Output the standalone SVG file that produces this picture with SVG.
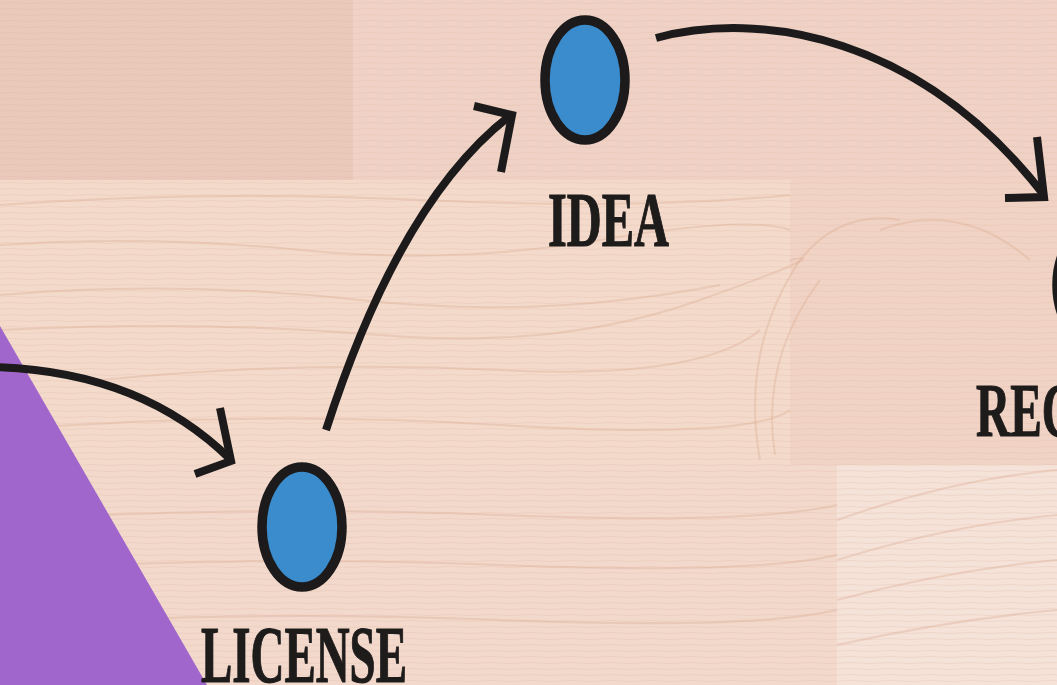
<svg xmlns="http://www.w3.org/2000/svg" width="1057" height="685" viewBox="0 0 1057 685">
<defs>
<style>
.grain{fill:none;stroke:#d9a98f;stroke-opacity:0.35;stroke-width:2}
.fine{fill:none;stroke:#dcb1a0;stroke-opacity:0.25;stroke-width:1}
.node{fill:#3a8ccd;stroke:#1c1a1a;stroke-width:9.5}
.conn{fill:none;stroke:#1c1a1a;stroke-width:8;stroke-linecap:butt}
.lbl{font-family:"Liberation Serif","DejaVu Serif",serif;font-weight:bold;fill:#1e1b1b;stroke:#1e1b1b;stroke-width:1.2}
</style>
<pattern id="lines" width="40" height="6" patternUnits="userSpaceOnUse">
<path d="M0 3 Q10 2 20 3 T40 3" class="fine"/>
</pattern>
</defs>
<g id="background">
<rect x="0" y="0" width="1057" height="685" fill="#f2dacd"/>
<rect x="0" y="0" width="353" height="180" fill="#eac8ba"/>
<rect x="353" y="0" width="704" height="180" fill="#efd2c5"/>
<rect x="0" y="180" width="790" height="285" fill="#f3dacb"/>
<rect x="790" y="180" width="267" height="285" fill="#f0d3c4"/>
<rect x="0" y="465" width="837" height="220" fill="#f2d9cc"/>
<rect x="837" y="465" width="220" height="220" fill="#f5e2d8"/>
<rect x="0" y="0" width="1057" height="685" fill="url(#lines)"/>
<path class="grain" d="M0 205 Q200 190 420 200 T790 195"/>
<path class="grain" d="M0 245 Q150 235 300 250 T600 240 T790 230"/>
<path class="grain" d="M0 295 Q180 280 360 300 T720 285"/>
<path class="grain" d="M0 330 Q200 320 380 335 T700 300 T790 260"/>
<path class="grain" d="M100 380 Q300 360 500 370 T760 330"/>
<path class="grain" d="M0 430 Q250 410 500 425 T790 410"/>
<path class="grain" d="M0 520 Q250 505 500 515 T837 505"/>
<path class="grain" d="M0 570 Q250 555 500 565 T837 555"/>
<path class="grain" d="M0 625 Q250 610 500 620 T837 610"/>
<path class="grain" d="M837 520 Q950 480 1057 470"/>
<path class="grain" d="M837 560 Q950 525 1057 515"/>
<path class="grain" d="M837 600 Q950 570 1057 560"/>
<path class="grain" d="M837 645 Q950 620 1057 610"/>
<path class="grain" d="M760 460 Q740 350 800 260 Q840 210 900 220"/>
<path class="grain" d="M775 455 Q760 360 820 280"/>
<path class="grain" d="M880 230 Q960 200 1030 260"/>
</g>
<polygon id="corner" points="0,326 207,685 0,685" fill="#a066cc"/>
<g id="connectors">
<path class="conn" d="M-10 367 Q140 370 231 460"/>
<path class="conn" d="M220 408 L231 461 L195 474"/>
<path class="conn" d="M326 430 Q400 200 511 115"/>
<path class="conn" d="M474 106 L512 115 L501 172"/>
<path class="conn" d="M656 38 C760 10 920 35 1044 195"/>
<path class="conn" d="M1037 137 L1044 197 L1005 198"/>
</g>
<g id="node-license">
<ellipse class="node" cx="302" cy="527" rx="40" ry="60"/>
<text class="lbl" x="201" y="682" font-size="80" textLength="206" lengthAdjust="spacingAndGlyphs">LICENSE</text>
</g>
<g id="node-idea">
<ellipse class="node" cx="585" cy="80" rx="40" ry="60"/>
<text class="lbl" x="548" y="246" font-size="78" textLength="121" lengthAdjust="spacingAndGlyphs">IDEA</text>
</g>
<g id="node-rec">
<ellipse class="node" cx="1097" cy="285" rx="40" ry="60"/>
<text class="lbl" x="976" y="436" font-size="76" textLength="100" lengthAdjust="spacingAndGlyphs">REC</text>
</g>
</svg>
